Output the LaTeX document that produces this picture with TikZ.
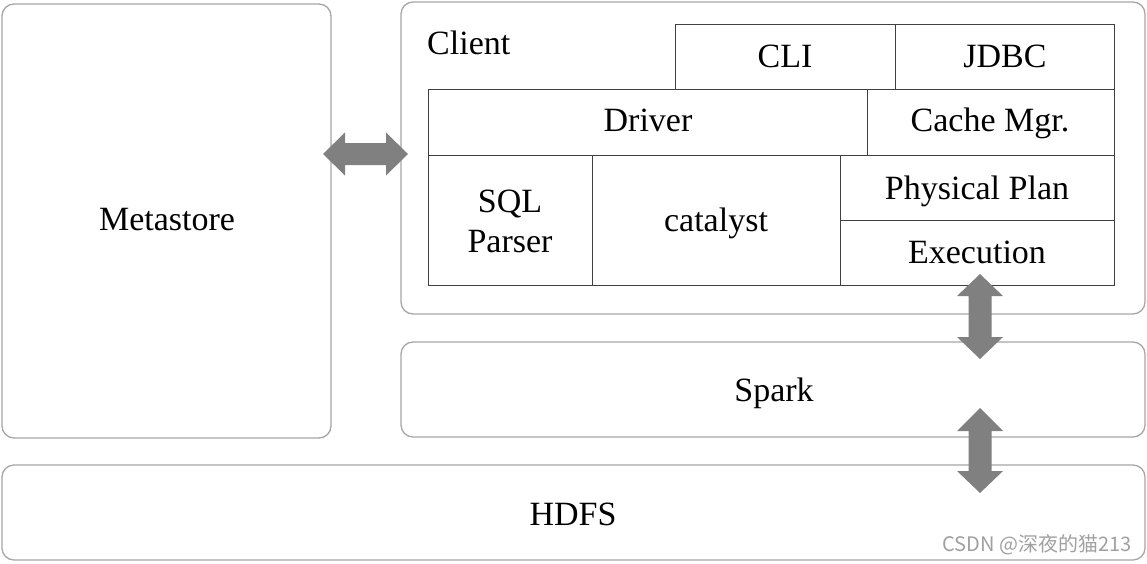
\documentclass[tikz,border=0pt]{standalone}
\usepackage{fontspec}
\setmainfont{Liberation Serif}
\newfontfamily\cjkfont{Noto Sans CJK SC}
\definecolor{outerline}{HTML}{A6A6A6}
\definecolor{innerline}{HTML}{404040}
\definecolor{arrowgray}{HTML}{808080}
\definecolor{wmgray}{HTML}{A0A0A0}
\begin{document}
\begin{tikzpicture}[x=1pt,y=-1pt,
  outerbox/.style={draw=outerline,line width=1.3pt,rounded corners=12pt},
  cellbox/.style={draw=innerline,line width=1pt},
  lbl/.style={font=\fontsize{34}{41}\selectfont,align=center,inner sep=0pt,anchor=base},
  fatarrow/.style={fill=arrowgray,draw=none}]
\useasboundingbox (0,0) rectangle (1147,563);
% outer boxes
\draw[outerbox] (2,4) rectangle (331,438);
\node[lbl] (meta) at (167,230) {Metastore};
\draw[outerbox] (401,2) rectangle (1145,314);
\node[lbl,anchor=base west] (client) at (427,54) {Client};
\draw[outerbox] (401,342) rectangle (1145,437);
\node[lbl] (spark) at (774,401) {Spark};
\draw[outerbox] (2,465) rectangle (1145,560);
\node[lbl] (hdfs) at (573,525) {HDFS};
% inner cells
\draw[cellbox] (675,24) rectangle (895,89);
\node[lbl] (cli) at (785,67) {CLI};
\draw[cellbox] (895,24) rectangle (1114,89);
\node[lbl] (jdbc) at (1005,67) {JDBC};
\draw[cellbox] (428,89) rectangle (867,155);
\node[lbl] (driver) at (648,131) {Driver};
\draw[cellbox] (867,89) rectangle (1114,155);
\node[lbl] (cache) at (990,131) {Cache Mgr.};
\draw[cellbox] (428,155) rectangle (592,285);
\node[lbl] (sql) at (510,212) {SQL};
\node[lbl] (parser) at (510,252) {Parser};
\draw[cellbox] (592,155) rectangle (840,285);
\node[lbl] (cat) at (716,231) {catalyst};
\draw[cellbox] (840,155) rectangle (1114,220);
\node[lbl] (phys) at (977,199) {Physical Plan};
\draw[cellbox] (840,220) rectangle (1114,285);
\node[lbl] (exec) at (977,263) {Execution};
% fat double arrows
\fill[fatarrow] (323,154) -- (345,132.5) -- (345,143) -- (386,143) -- (386,132.5) -- (408,154)
  -- (386,175.5) -- (386,165) -- (345,165) -- (345,175.5) -- cycle;
\fill[fatarrow] (980,274) -- (1003,296) -- (991.5,296) -- (991.5,337) -- (1003,337) -- (980,359)
  -- (957,337) -- (968.5,337) -- (968.5,296) -- (957,296) -- cycle;
\fill[fatarrow] (980,408) -- (1003,431) -- (991.5,431) -- (991.5,471) -- (1003,471) -- (980,493)
  -- (957,471) -- (968.5,471) -- (968.5,431) -- (957,431) -- cycle;
% watermark
\node[anchor=east,inner sep=0pt,text=wmgray,font=\cjkfont\fontsize{20}{22}\selectfont] (wm) at (1132,545) {CSDN @深夜的猫213};
\end{tikzpicture}
\end{document}
